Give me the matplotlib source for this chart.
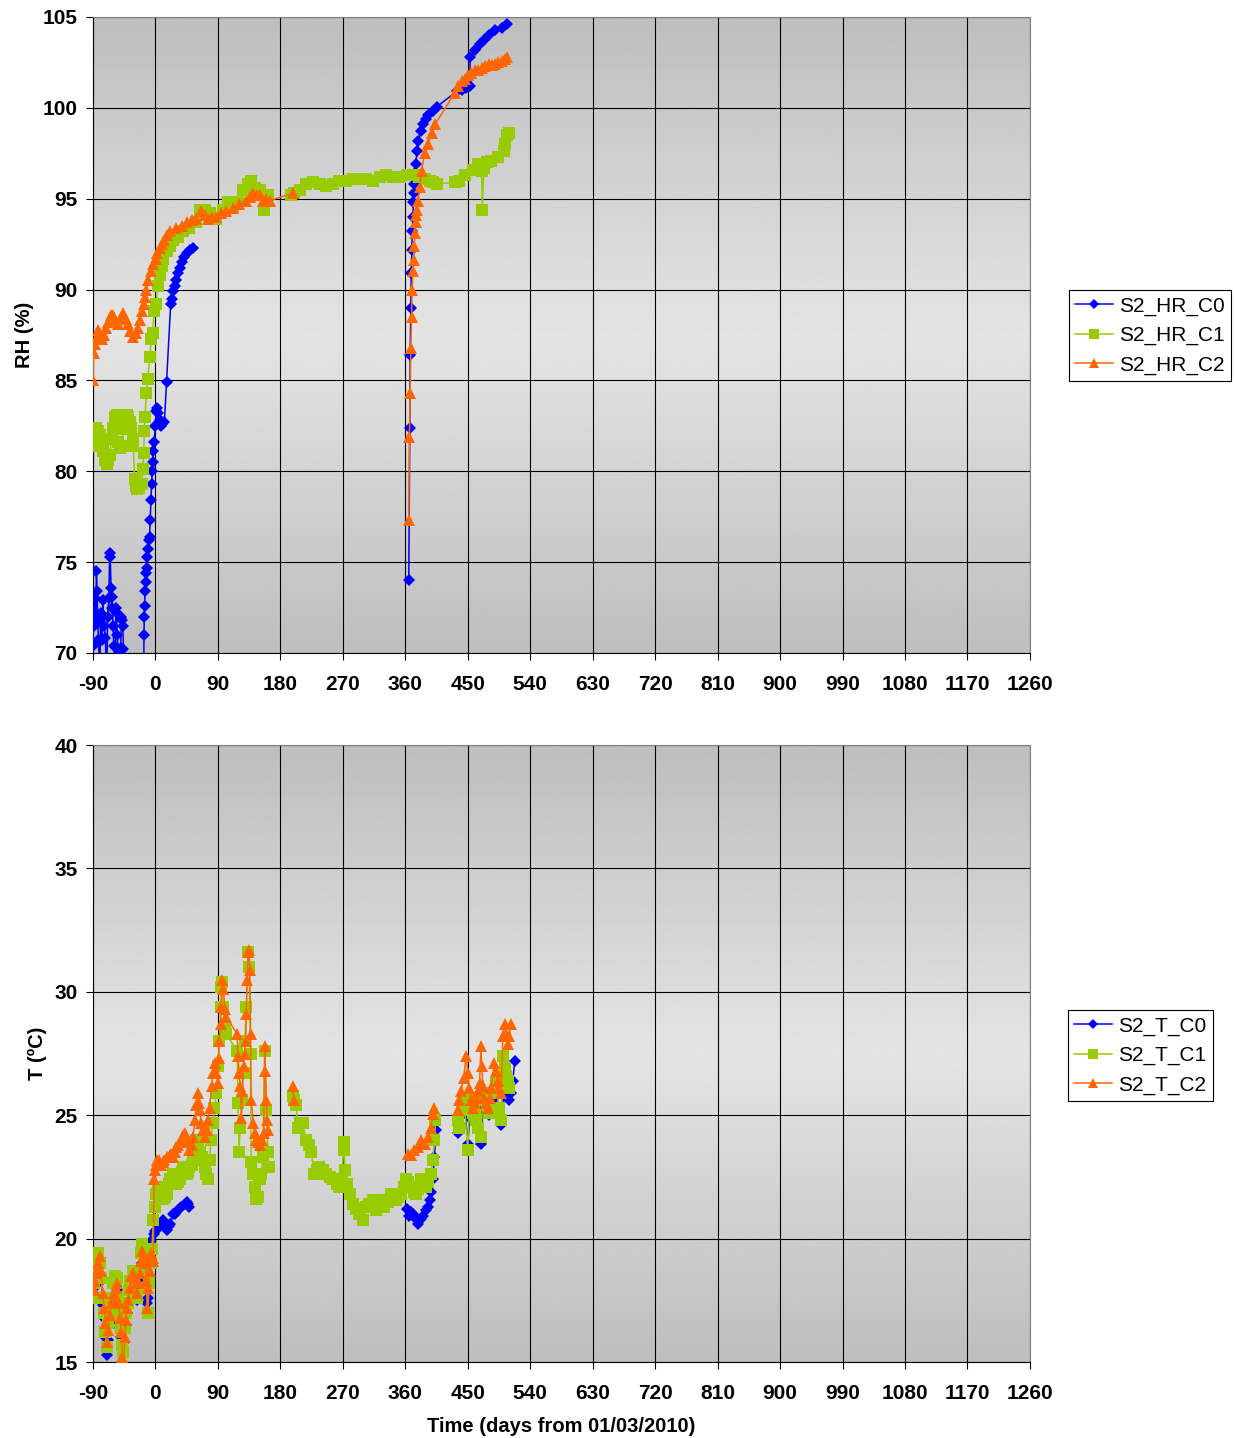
import numpy as np
import matplotlib
matplotlib.use("Agg")
import matplotlib.pyplot as plt

plt.rcParams["font.family"] = ["Liberation Sans", "DejaVu Sans"]
plt.rcParams["axes.unicode_minus"] = False

nan = np.nan

# ----------------- RH (%) series, x = days from 01/03/2010 -----------------
rh_c0_day = [-90, -89, -88, -87, -86, -85, -84, -83, -82, -80,
             -79, -77, -76, -75, -74, -72, -70, -69, -67, -66,
             -65, -64, -63, -62, -61, -60, -58, -57, -56, -55,
             -54, -52, -50, -49, -48, -47, -46, -45, -17,
             -16.5, -16, -15.5, -15, -14, -13, -12, -11.5, -10.5, -9.5,
             -8.5, -7.5, -6.5, -5.5, -4.5, -4, -3, -2, 0, 1,
             2, 4, 6, 8, 10, 13, 16, 22, 24, 26,
             28, 30, 32, 35, 38, 41, 45, 50, 54, nan,
             365, 366.5, 367, 368, 368.5, 369.5, 370, 371, 371.5, 372,
             373, 374, 375, 377, 379, 382, 386, 390, 393, 400,
             405, 434, 441, 447, 453, 453.5, 460, 467, 474, 481,
             489, 499, 506]
rh_c0 = [70.4, 72.3, 71.5, 73.0, 72.0, 74.5, 73.4, 71.7, 70.7, 68.5,
         72.2, 70.7, 72.9, 72.0, 71.5, 70.8, 68.0, 72.0, 73.0, 75.5,
         75.3, 73.6, 73.1, 72.5, 71.5, 70.4, 69.0, 72.5, 72.2, 71.0,
         70.2, 68.0, 70.3, 72.0, 71.8, 71.5, 70.2, 68.0, 66.0,
         71.0, 72.0, 72.6, 73.4, 73.9, 74.4, 74.7, 75.3, 75.7, 76.2,
         76.4, 77.3, 78.4, 79.3, 80.0, 80.5, 81.1, 81.6, 82.5, 83.3,
         83.5, 83.2, 82.8, 82.5, 82.6, 82.7, 84.9, 89.2, 89.5, 89.9,
         90.2, 90.5, 90.9, 91.2, 91.5, 91.8, 92.0, 92.2, 92.3, nan,
         74.0, 82.4, 86.4, 89.0, 90.9, 92.2, 93.2, 94.0, 94.8, 95.3,
         95.8, 96.4, 96.9, 97.6, 98.2, 98.7, 99.1, 99.4, 99.6, 99.8,
         100.05, 100.9, 101.0, 101.1, 101.2, 102.8, 103.2, 103.5, 103.75, 104.0,
         104.27, 104.4, 104.6]

rh_c1_day = [-90, -88, -85, -82, -80, -77, -75, -72, -70, -68,
             -66, -63, -61, -58, -56, -54, -51, -49, -46, -44,
             -41, -39, -37, -35, -33, -32, -30, -28, -26, -23,
             -20, -18, -17, -16, -15, -13, -11, -8, -6, -4,
             -2, 1, 4, 6, 9, 11, 16, 21, 25, 33,
             40, 49, 59, 64, 71, 78, 88, 97, 105, 112,
             119, 126, 133, 138, 143, 150, 157, 162, nan,
             196, 200, 208, 217, 227, 237, 246, 256, 265, 275,
             285, 294, 304, 313, 323, 332, 342, 352, 362, 372,
             380, 388, 395, 400, 405, 431, 437, 446, 457, 465,
             470, 471, 473, 478, 484, 494, 502, 504, 507, 510]
rh_c1 = [81.4, 81.9, 82.4, 82.2, 82.0, 81.5, 81.1, 80.6, 80.4, 80.6,
         80.9, 81.8, 82.4, 83.0, 83.1, 81.6, 81.3, 81.4, 82.3, 83.0,
         83.1, 83.0, 82.7, 82.4, 81.8, 81.4, 79.6, 79.2, 79.0, 79.1,
         79.3, 80.1, 81.0, 82.2, 83.0, 84.3, 85.1, 86.3, 87.3, 87.6,
         88.8, 89.2, 90.2, 90.8, 91.3, 91.7, 92.1, 92.4, 92.7, 92.9,
         93.2, 93.4, 93.7, 94.4, 94.4, 94.2, 93.9, 94.4, 94.8, 94.5,
         94.8, 95.5, 95.8, 96.0, 95.6, 95.5, 94.4, 95.2, nan,
         95.2, 95.3, 95.5, 95.8, 95.9, 95.8, 95.7, 95.8, 96.0, 96.0,
         96.1, 96.1, 96.1, 96.0, 96.2, 96.3, 96.2, 96.2, 96.3, 96.3,
         96.2, 96.1, 96.0, 95.9, 95.8, 95.9, 96.0, 96.3, 96.6, 96.9,
         96.5, 94.4, 96.7, 97.0, 97.1, 97.3, 97.6, 98.0, 98.5, 98.6]

rh_c2_day = [-90, -89, -87, -85, -83, -80, -77, -74, -71, -68,
             -64, -61, -58, -54, -50, -47, -43, -39, -36, -32,
             -28, -25, -22, -20, -17, -15, -13, -10, -6, -3,
             1, 3, 6, 10, 13, 17, 21, 30, 38, 45,
             52, 59, 66, 71, 76, 82, 88, 95, 102, 112,
             121, 131, 136, 141, 146, 150, 155, 160, 165, 198,
             nan,
             365, 366, 367, 368, 369, 370, 371, 372, 373, 374,
             375, 376, 377, 378.5, 381, 383.5, 388, 393, 398, 403,
             431, 436, 441, 446, 451, 455, 460, 465, 470, 475,
             480, 485, 489, 494, 499, 503, 506]
rh_c2 = [85.0, 86.5, 87.0, 87.3, 87.8, 87.6, 87.3, 87.5, 87.9, 88.2,
         88.6, 88.6, 88.3, 88.1, 88.5, 88.7, 88.4, 88.1, 87.7, 87.4,
         87.6, 87.9, 88.3, 88.8, 89.2, 89.6, 90.0, 90.5, 91.0, 91.4,
         91.7, 92.0, 92.3, 92.5, 92.7, 93.0, 93.2, 93.4, 93.5, 93.7,
         93.8, 93.9, 94.3, 94.1, 93.9, 94.0, 94.0, 94.2, 94.3, 94.5,
         94.7, 94.9, 95.1, 95.3, 95.2, 95.2, 94.9, 95.0, 94.9, 95.3,
         nan,
         77.3, 81.9, 84.3, 86.8, 88.5, 90.0, 91.0, 91.6, 92.4, 93.1,
         93.7, 94.1, 94.4, 94.9, 95.65, 96.55, 97.5, 98.0, 98.6, 99.1,
         100.8, 101.2, 101.5, 101.6, 101.8, 101.9, 102.06, 102.1, 102.2, 102.3,
         102.4, 102.35, 102.4, 102.5, 102.6, 102.7, 102.8]

# ----------------- T (ºC) series -----------------
t_c0_day = [-90, -88, -85, -82, -80, -78, -76, -74, -72, -70,
            -68, -66, -63, -60, -57, -55, -53, -51, -49, -47,
            -45, -43, -41, -39, -37, -35, -32, -30, -28, -26,
            -24, -22, -20, -18, -16, -14, -12, -10, -8, -6,
            -2.5, 0, 3, 6, 9, 11, 14, 16, 19, 21,
            25, 28, 30, 34, 37, 42, 45, 47, 49, nan,
            363, 366, 368, 371, 375, 378, 382, 385, 390, 393,
            395, 397, 399.6, 402, 404.4, nan,
            435.6, 438, 442, 446, 450, 453, 457, 461, 465, 469,
            472, 476, 480, 485, 490, 494, 498, 502, 506, 510,
            512, 515, 517.6]
t_c0 = [17.8, 18.0, 18.5, 18.9, 18.9, 18.3, 17.3, 16.8, 16.0, 15.3,
        15.9, 16.6, 17.2, 17.7, 18.1, 17.9, 17.1, 16.4, 16.0, 15.5,
        15.8, 16.5, 17.0, 17.4, 17.9, 18.3, 18.4, 18.2, 17.8, 17.5,
        18.0, 18.4, 19.0, 19.4, 19.0, 18.4, 17.4, 17.6, 18.4, 19.9,
        20.2, 20.3, 20.4, 20.5, 20.6, 20.75, 20.5, 20.35, 20.5, 20.6,
        21.0, 21.0, 21.1, 21.2, 21.3, 21.4, 21.5, 21.4, 21.3, nan,
        21.2, 20.9, 21.1, 21.0, 20.8, 20.6, 20.8, 20.9, 21.15, 21.3,
        21.55, 21.9, 22.4, 23.3, 24.4, nan,
        24.3, 24.6, 25.0, 25.3, 23.85, 24.9, 25.0, 24.7, 24.4, 23.85,
        25.2, 25.6, 25.0, 25.6, 26.0, 25.2, 24.6, 25.8, 26.0, 25.6,
        25.9, 26.4, 27.2]

t_c1_day = [-90, -88, -86, -84, -82, -80, -78, -76, -74, -72,
            -70, -68, -66, -64, -61, -58, -56, -54, -52, -50,
            -48, -46, -44, -42, -40, -38, -36, -33, -31, -29,
            -27, -25, -23, -21, -19, -17, -15, -13, -11, -9,
            -7, -5, -3, -1, 1.4, 4, 6, 9, 11, 14,
            16, 19, 21, 25, 28, 30, 33, 35, 38, 40,
            43, 45, 47, 49, 52, 54, 57, 59, 62, 64,
            67, 69, 71, 73, 76, 78, 80, 83, 85, 88,
            90, 92, 94, 95, 96.5, 97.5, 100, 102, 117.6, 119,
            120.5, 122, 125, 127, 129, 131, 133.5, 135, 137, 138,
            141, 143, 145.5, 148, 150, 152.6, 155, 157.5, 160, 162,
            163, nan,
            198, 200, 203, 205, 208, 212, 217, 221, 224.5, 229,
            233, 236.4, 241, 246, 251, 256, 261, 265, 269, 271,
            272.4, 273, 276, 280, 284, 289, 294, 299, 304, 308,
            313, 318, 323, 327, 330, 335, 339.6, 343, 347, 350,
            354, 358, 361, 364, 368, 372, 375.6, 379, 383, 387,
            390, 393, 397, 399.6, 402, 403.5, nan,
            435.6, 438, 441, 445, 450, 452.4, 455, 457, 460, 462,
            465, 469, 471.6, 475, 478, 481, 486, 491, 495, 498,
            500.5, 503, 505, 508, 510]
t_c1 = [17.6, 18.2, 18.8, 19.2, 19.4, 19.0, 18.4, 17.6, 17.0, 16.2,
        15.6, 16.6, 17.2, 17.6, 18.2, 18.5, 18.4, 17.6, 17.0, 16.4,
        15.7, 15.4, 16.4, 17.0, 17.4, 17.9, 18.3, 18.7, 18.5, 18.0,
        17.6, 18.0, 18.6, 19.4, 19.8, 19.5, 18.8, 18.0, 17.0, 18.2,
        19.0, 19.6, 20.75, 21.3, 21.8, 22.0, 22.1, 21.8, 21.6, 21.7,
        21.8, 22.2, 22.4, 22.6, 22.4, 22.2, 22.3, 22.4, 22.7, 22.9,
        22.8, 22.6, 22.7, 22.9, 23.0, 23.2, 23.6, 24.0, 23.8, 23.5,
        23.3, 23.2, 22.9, 22.6, 22.4, 23.2, 24.0, 24.7, 25.3, 25.9,
        27.0, 28.0, 29.4, 30.2, 30.4, 29.4, 28.5, 28.3, 27.6, 25.5,
        23.5, 24.5, 25.6, 26.7, 28.0, 29.4, 31.6, 31.0, 27.5, 23.1,
        22.6, 22.1, 21.6, 21.7, 22.4, 22.6, 23.3, 27.6, 25.2, 23.5,
        22.9, nan,
        25.8, 25.6, 25.4, 24.5, 24.7, 24.7, 24.0, 23.8, 23.5, 22.6,
        22.8, 22.9, 22.8, 22.6, 22.5, 22.4, 22.2, 22.1, 22.3, 23.9,
        23.6, 22.8, 22.2, 21.8, 21.4, 21.2, 21.0, 20.75, 21.3, 21.4,
        21.55, 21.15, 21.55, 21.4, 21.3, 21.5, 21.8, 21.7, 21.55, 21.7,
        21.8, 22.1, 22.4, 22.3, 22.1, 21.9, 21.8, 22.0, 22.4, 22.2,
        22.1, 22.3, 22.6, 23.2, 24.0, 24.8, nan,
        24.8, 24.5, 25.2, 25.5, 23.6, 25.3, 25.6, 25.1, 25.0, 24.8,
        24.5, 24.1, 25.6, 25.9, 25.4, 25.1, 25.9, 26.3, 25.3, 24.8,
        27.4, 26.9, 26.6, 26.4, 26.1]

t_c2_day = [-90, -89, -87, -85, -82, -80, -78, -76, -74, -72,
            -70, -68, -66, -63, -61, -59, -57, -55, -53, -51,
            -49, -47.5, -46, -44, -43, -41, -39, -37, -35.5, -32,
            -30, -28, -26, -24, -22.6, -21, -19, -17, -15, -13,
            -11.5, -10, -8, -6, -4, -3, -2, 0, 1.4, 3,
            5, 8.6, 11, 13, 16, 18, 21, 23, 25, 28,
            30, 33, 37, 40, 42, 45, 49, 52, 54, 57,
            59, 61, 63, 64, 66, 68, 71, 74, 76, 78,
            81, 83, 85.5, 88, 90, 91, 92, 94, 95, 96.5,
            98, 100, 102, 117.6, 119, 120.5, 122, 124, 125, 127,
            128.7, 130, 131, 132, 133.5, 135, 136, 137, 138, 141,
            143, 145.5, 148, 150, 154, 156, 157.5, 158.4, 160, 161,
            162, nan, 198, 199.6, nan,
            363.6, 368, 373, 378, 383, 388, 393, 397, 399.6, 402,
            nan,
            436, 438, 440.4, 444, 447.6, 450, 452.4, 455, 457, 460,
            462, 465, 467, 469, 470, 472, 474, 477, 479, 482,
            484, 488, 490, 493, 495, 498, 500.5, 503, 505, 507.6,
            510, 512.4]
t_c2 = [18.0, 17.9, 18.3, 18.6, 19.0, 19.3, 18.7, 17.8, 17.2, 16.6,
        15.8, 16.3, 16.9, 17.4, 17.6, 17.8, 18.0, 18.2, 17.4, 16.8,
        16.2, 15.2, 14.95, 16.0, 16.7, 17.2, 17.5, 18.0, 18.5, 18.6,
        18.4, 18.2, 17.8, 18.2, 18.6, 19.1, 19.5, 19.3, 19.0, 18.3,
        17.2, 18.0, 18.7, 19.4, 19.2, 19.1, 22.4, 22.8, 23.0, 23.2,
        23.2, 23.0, 23.1, 23.2, 23.3, 23.3, 23.4, 23.45, 23.3, 23.5,
        23.7, 23.8, 24.0, 24.2, 24.3, 23.9, 23.6, 23.8, 24.1, 24.8,
        25.4, 25.9, 25.5, 25.2, 24.7, 24.4, 24.1, 24.4, 24.8, 25.3,
        26.2, 26.7, 27.1, 26.7, 26.3, 27.3, 28.0, 28.7, 29.4, 30.5,
        30.1, 29.3, 29.0, 28.3, 27.4, 26.7, 26.2, 24.9, 26.0, 27.0,
        27.5, 28.0, 29.1, 30.5, 31.6, 31.7, 30.9, 28.3, 25.6, 24.7,
        24.3, 24.0, 23.9, 23.8, 24.0, 24.3, 27.8, 26.8, 25.6, 24.8,
        24.4, nan, 26.2, 25.6, nan,
        23.45, 23.4, 23.6, 23.7, 24.0, 23.85, 24.1, 24.5, 25.05, 25.3,
        nan,
        25.2, 25.6, 26.0, 26.5, 27.4, 26.7, 26.1, 25.6, 25.3, 25.5,
        25.7, 26.0, 26.3, 27.8, 27.0, 26.2, 25.7, 25.5, 25.3, 25.7,
        26.1, 27.1, 26.8, 26.4, 26.1, 25.9, 28.2, 28.7, 28.3, 27.9,
        28.2, 28.7]

x_ticks = list(range(-90, 1261, 90))

BLUE = "#0000FF"
GREEN = "#99CC00"
ORANGE = "#FF6600"


def shade_plot_area(ax):
    # grey band: darker at top/bottom edges, lighter through the middle
    g = np.abs(np.linspace(-1, 1, 400))
    shade = 0.895 - 0.15 * g
    ax.imshow(np.repeat(shade[:, None], 2, axis=1), cmap="gray", vmin=0, vmax=1,
              aspect="auto", extent=(0, 1, 0, 1), transform=ax.transAxes,
              interpolation="bilinear", zorder=0)


def style_axes(ax, ylim, ystep, ylabel):
    shade_plot_area(ax)
    ax.set_xlim(-90, 1260)
    ax.set_ylim(*ylim)
    ax.set_xticks(x_ticks)
    ax.set_yticks(np.arange(ylim[0], ylim[1] + 0.1, ystep))
    ax.grid(True, color="black", linewidth=0.8, zorder=1)
    ax.set_axisbelow(True)
    ax.tick_params(direction="out", length=5, width=0.8, labelsize=15)
    ax.tick_params(axis="x", pad=11)
    ax.tick_params(axis="y", pad=6)
    for lab in ax.get_xticklabels() + ax.get_yticklabels():
        lab.set_fontweight("bold")
    for side in ("left", "bottom"):
        ax.spines[side].set_color("black")
        ax.spines[side].set_linewidth(0.8)
    for side in ("top", "right"):
        ax.spines[side].set_color("#808080")
        ax.spines[side].set_linewidth(0.8)
    ax.set_ylabel(ylabel, fontsize=14.5, fontweight="bold")


def add_series(ax, x, y, color, marker, ms, label):
    ax.plot(x, y, color=color, marker=marker, markersize=ms, linewidth=1.1,
            markeredgewidth=0, label=label, zorder=3)


fig = plt.figure(figsize=(12.36, 14.38), dpi=100)
ax1 = fig.add_axes([0.0752, 0.5459, 0.7581, 0.4423])
ax2 = fig.add_axes([0.0752, 0.0528, 0.7581, 0.4291])

# ---- RH ----
style_axes(ax1, (70, 105), 5, "RH (%)")
add_series(ax1, rh_c0_day, rh_c0, BLUE, "D", 6.3, "S2_HR_C0")
add_series(ax1, rh_c1_day, rh_c1, GREEN, "s", 8, "S2_HR_C1")
add_series(ax1, rh_c2_day, rh_c2, ORANGE, "^", 9, "S2_HR_C2")
ax1.yaxis.set_label_coords(-0.063, 0.5)

# ---- T ----
style_axes(ax2, (15, 40), 5, "T (ºC)")
add_series(ax2, t_c0_day, t_c0, BLUE, "D", 6.3, "S2_T_C0")
add_series(ax2, t_c1_day, t_c1, GREEN, "s", 8, "S2_T_C1")
add_series(ax2, t_c2_day, t_c2, ORANGE, "^", 9, "S2_T_C2")
ax2.yaxis.set_label_coords(-0.049, 0.5)
ax2.set_xlabel("Time (days from 01/03/2010)", fontsize=14.5, fontweight="bold")
ax2.xaxis.set_label_coords(0.5, -0.089)

for ax, anchor in ((ax1, (0.8649, 0.7983)), (ax2, (0.8641, 0.2976))):
    leg = ax.legend(loc="upper left", bbox_to_anchor=anchor,
                    bbox_transform=fig.transFigure, fontsize=15,
                    frameon=True, fancybox=False, framealpha=1,
                    edgecolor="black", borderpad=0.3, handlelength=1.8,
                    handletextpad=0.3, labelspacing=0.5, borderaxespad=0,
                    markerscale=0.85)
    leg.get_frame().set_linewidth(0.8)

fig.savefig("out.png", dpi=100)
